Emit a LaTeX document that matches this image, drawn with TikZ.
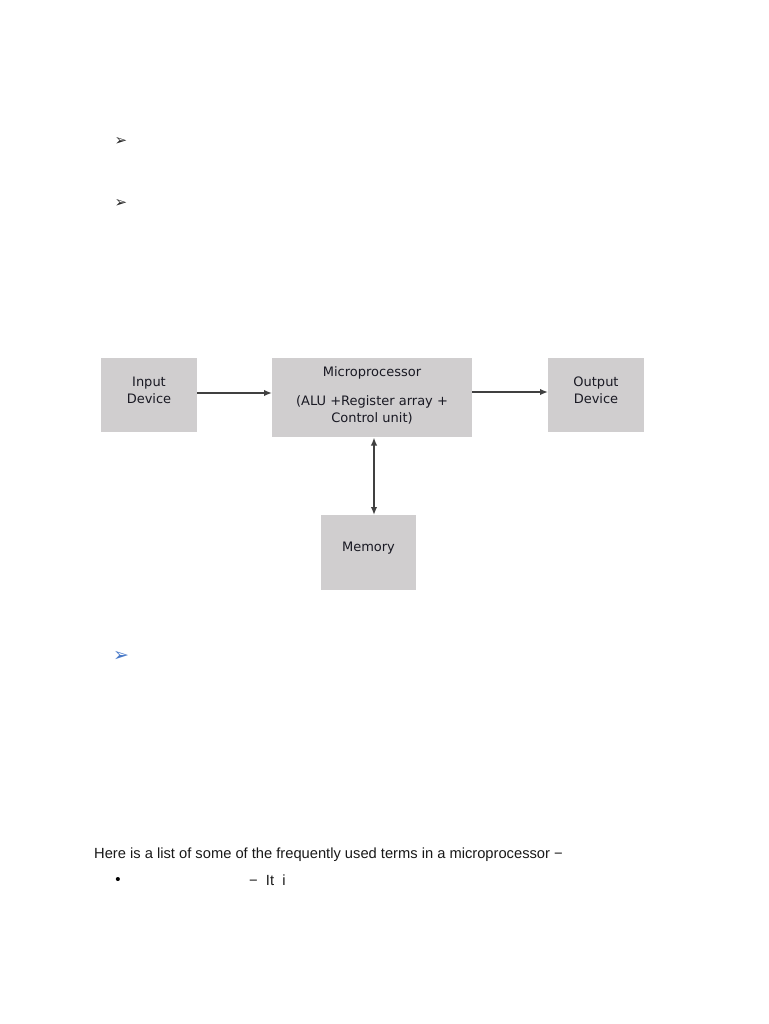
\documentclass[tikz,border=0pt]{standalone}
\usepackage{fontspec}
\setmainfont{Liberation Sans}
\newfontfamily\boxfont{DejaVu Sans}
\newfontfamily\symfont{DejaVu Sans}
\usetikzlibrary{arrows.meta}
\definecolor{boxgray}{RGB}{208,206,207}
\definecolor{linegray}{RGB}{64,64,64}
\definecolor{bulletblue}{RGB}{70,120,200}
\definecolor{labelink}{RGB}{25,25,35}
\tikzset{
  blockbox/.style={fill=boxgray, draw=none, inner sep=0pt},
  blocklabel/.style={inner sep=0pt, align=center,
    font=\boxfont\fontsize{13}{17}\selectfont, text=labelink},
  link/.style={draw=linegray, line width=1.6pt, -{Latex[length=8pt,width=6.5pt]}},
  dlink/.style={draw=linegray, line width=1.6pt, {Latex[length=8pt,width=6.5pt]}-{Latex[length=8pt,width=6.5pt]}},
  bodytext/.style={font=\fontsize{14.7}{18}\selectfont, inner sep=0pt, anchor=base west, text=black!90},
  arrowbullet/.style={font=\symfont\fontsize{15}{15}\selectfont, inner sep=0pt, text=black!85}
}
\begin{document}
\begin{tikzpicture}[x=1pt,y=-1pt]
\useasboundingbox[fill=white] (0,0) rectangle (768,1024);
% bullets
\node[arrowbullet] (b1) at (121,142) {➢};
\node[arrowbullet] (b2) at (121,204) {➢};
\node[arrowbullet, text=bulletblue, font=\symfont\fontsize{19}{19}\selectfont] (b3) at (121,656) {➢};
% blocks
\node[blockbox, minimum width=96pt, minimum height=74pt] (in) at (149,395) {};
\node[blocklabel] (inl) at (149,390) {Input\\Device};
\node[blockbox, minimum width=200pt, minimum height=79pt] (mp) at (372,397.5) {};
\node[blocklabel] (mpt1) at (372,373) {Microprocessor};
\node[blocklabel] (mpt2) at (372,409.5) {(ALU +Register array +\\Control unit)};
\node[blockbox, minimum width=96pt, minimum height=74pt] (out) at (596,395) {};
\node[blocklabel] (outl) at (596,390) {Output\\Device};
\node[blockbox, minimum width=95pt, minimum height=75pt] (mem) at (368.5,552.5) {};
\node[blocklabel] (meml) at (368.5,548) {Memory};
% connectors
\coordinate (inR) at (197,393);
\coordinate (mpL) at (272,393);
\coordinate (mpR) at (472,392);
\coordinate (outL) at (548,392);
\coordinate (mpB) at (374,437.5);
\coordinate (memT) at (374,515);
\draw[link] (inR) -- (mpL);
\draw[link] (mpR) -- (outL);
\draw[dlink] (mpB) -- (memT);
% text
\node[bodytext] (t1) at (94,858) {Here is a list of some of the frequently used terms in a microprocessor −};
\node[font=\fontsize{15}{15}\selectfont, inner sep=0pt] (bl) at (118,881) {•};
\node[bodytext] (t2) at (249,885) {−\ \ It\ \ i};
\end{tikzpicture}
\end{document}
